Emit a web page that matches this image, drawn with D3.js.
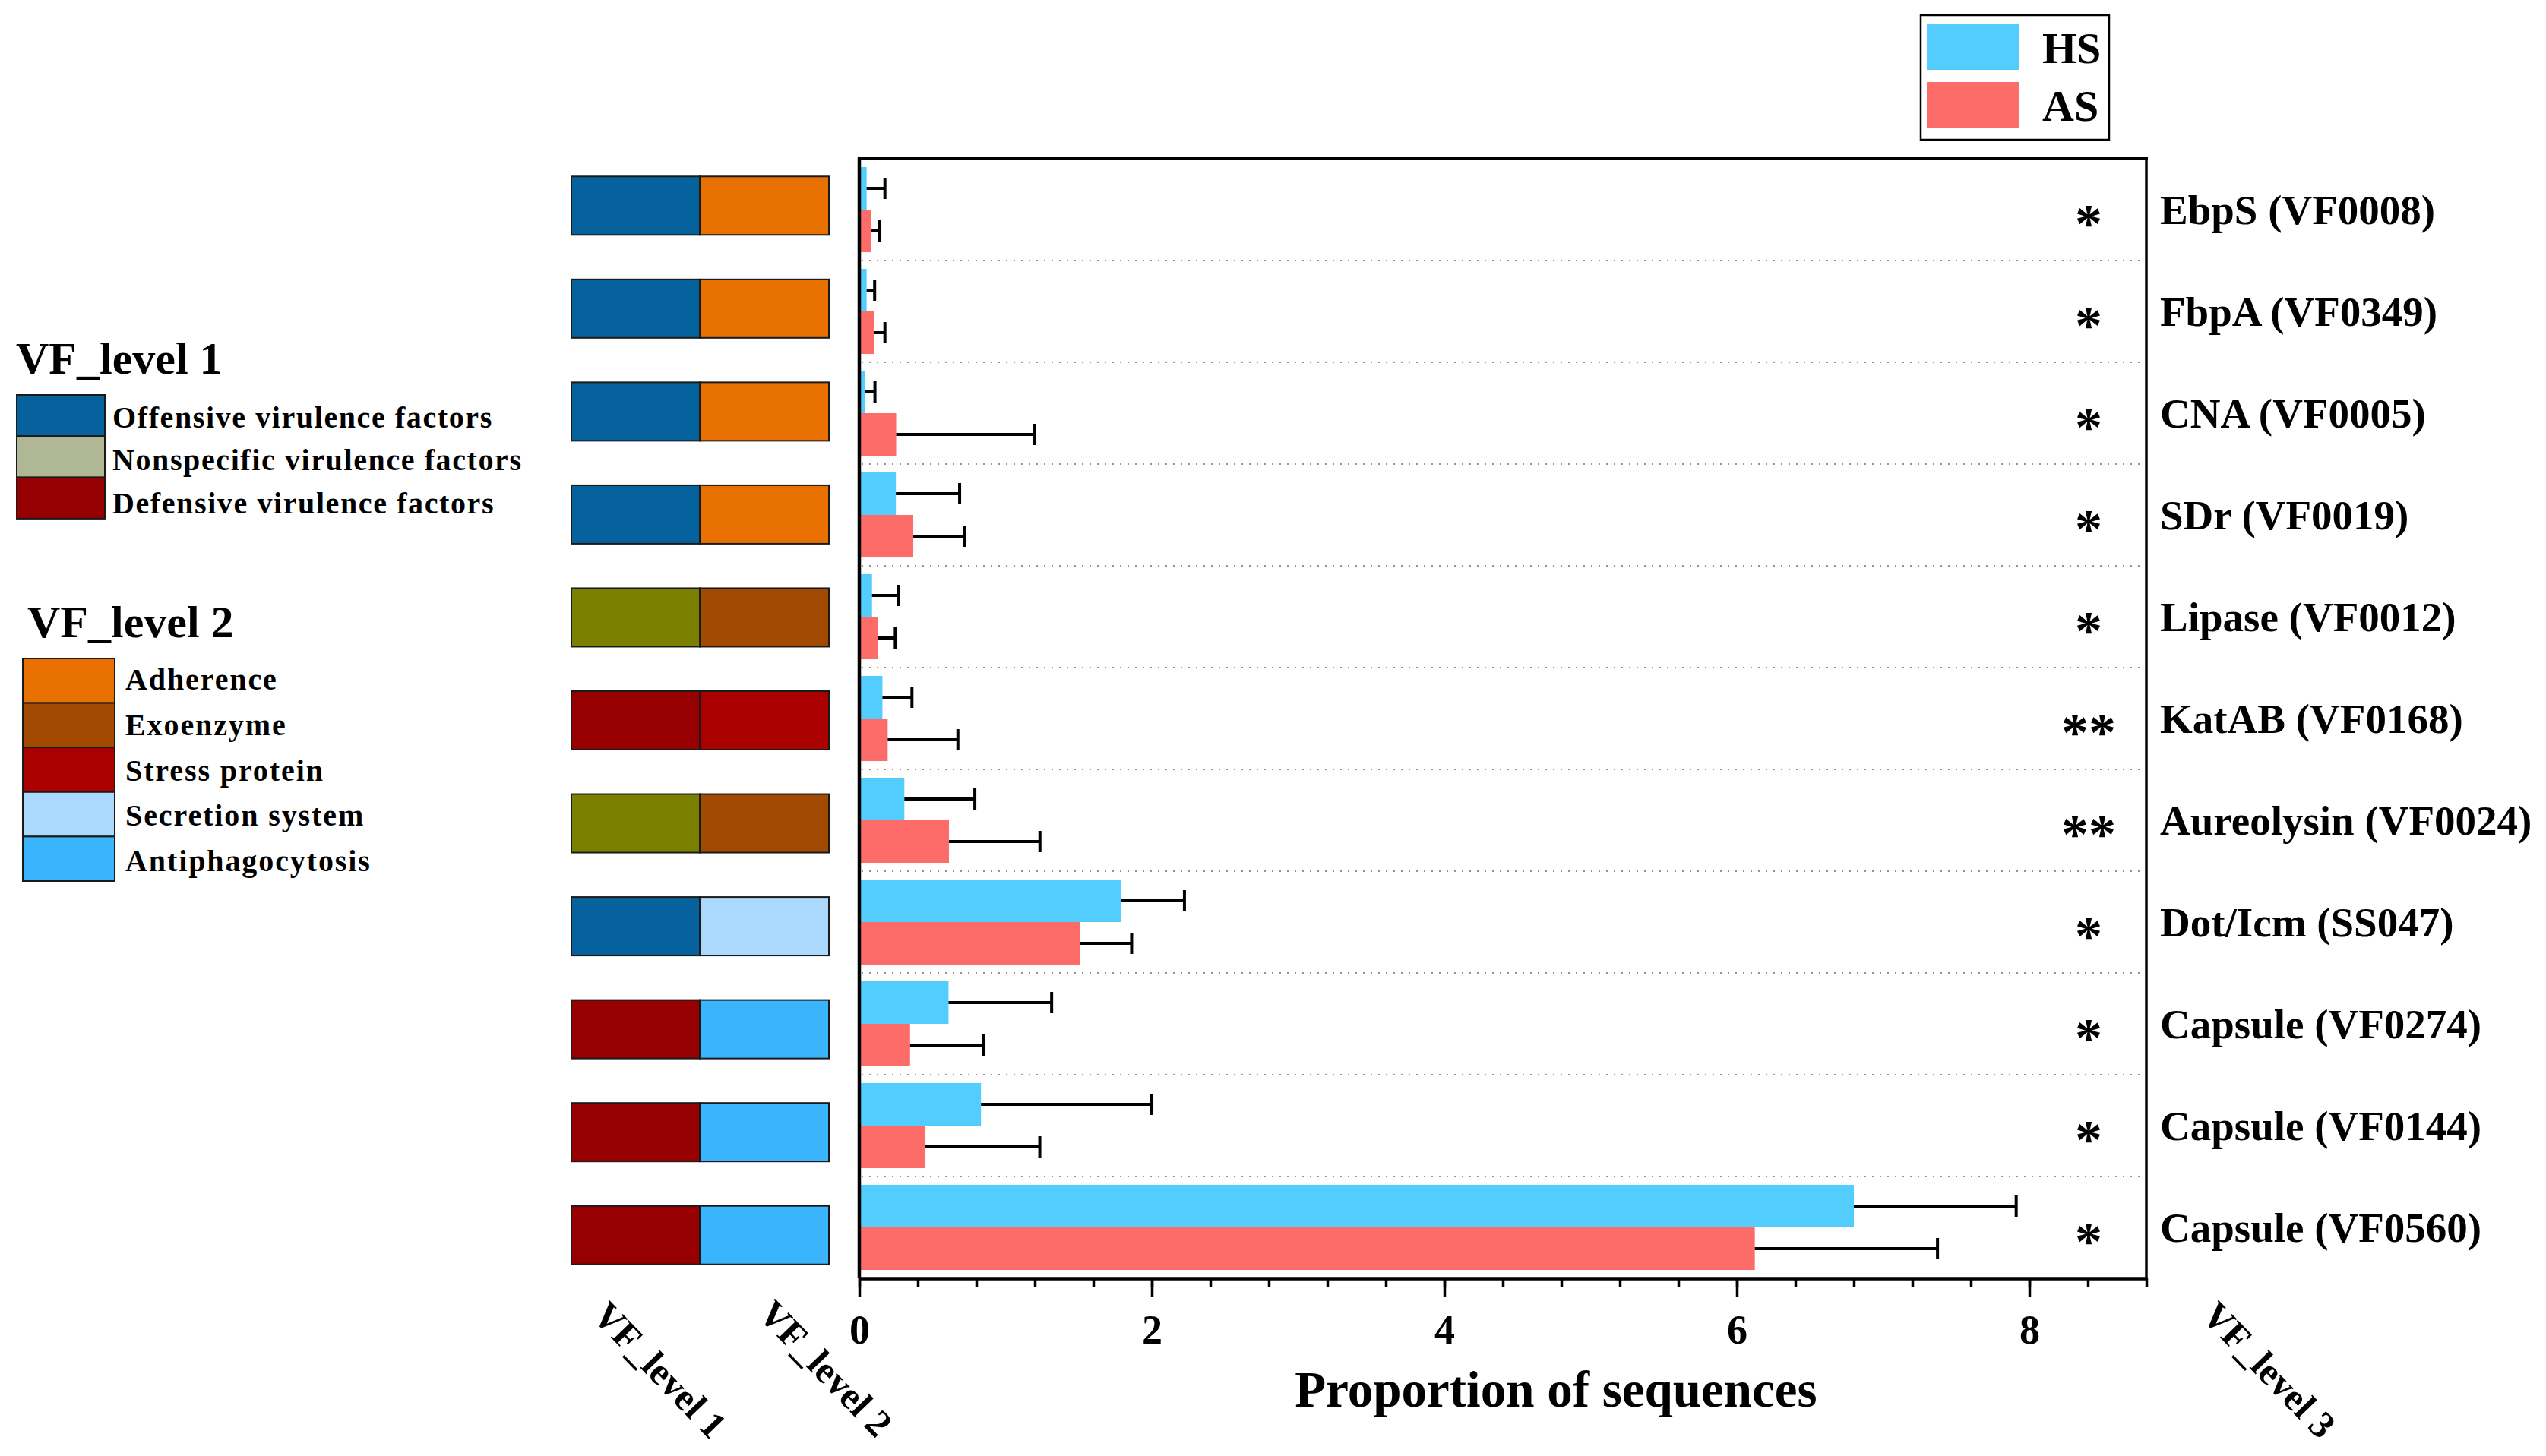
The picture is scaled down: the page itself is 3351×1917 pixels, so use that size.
<!DOCTYPE html>
<html>
<head>
<meta charset="utf-8">
<script src="https://cdn.jsdelivr.net/npm/d3@7"></script>
<style>
  html, body { margin: 0; padding: 0; background: #ffffff; }
  svg { display: block; }
  text { font-family: "Liberation Serif", "Times New Roman", serif; }
</style>
</head>
<body>
<svg id="chart" width="3351" height="1917"></svg>
<script>
// ---------------- data ----------------
const categories = ["EbpS (VF0008)", "FbpA (VF0349)", "CNA (VF0005)", "SDr (VF0019)", "Lipase (VF0012)",
  "KatAB (VF0168)", "Aureolysin (VF0024)", "Dot/Icm (SS047)", "Capsule (VF0274)", "Capsule (VF0144)", "Capsule (VF0560)"];
const groups = ["HS", "AS"];
const hsMean = [0.05, 0.05, 0.04, 0.25, 0.087, 0.158, 0.308, 1.788, 0.61, 0.832, 6.80];
const hsErr  = [0.125, 0.055, 0.067, 0.436, 0.182, 0.202, 0.482, 0.435, 0.705, 1.168, 1.11];
const asMean = [0.078, 0.10, 0.252, 0.369, 0.125, 0.194, 0.613, 1.511, 0.347, 0.45, 6.123];
const asErr  = [0.062, 0.075, 0.946, 0.353, 0.121, 0.48, 0.622, 0.351, 0.502, 0.784, 1.249];
const significance = ["*", "*", "*", "*", "*", "**", "**", "*", "*", "*", "*"];
const level1 = ["Offensive virulence factors", "Offensive virulence factors", "Offensive virulence factors", "Offensive virulence factors",
  "Nonspecific virulence factors", "Defensive virulence factors", "Nonspecific virulence factors", "Offensive virulence factors",
  "Defensive virulence factors", "Defensive virulence factors", "Defensive virulence factors"];
const level2 = ["Adherence", "Adherence", "Adherence", "Adherence", "Exoenzyme", "Stress protein", "Exoenzyme",
  "Secretion system", "Antiphagocytosis", "Antiphagocytosis", "Antiphagocytosis"];
const level1Names = ["Offensive virulence factors", "Nonspecific virulence factors", "Defensive virulence factors"];
const level1LegendColors = ["#05629d", "#b0b795", "#960000"];
const level1BlockColors = ["#05629d", "#7b8000", "#960000"];
const level2Names = ["Adherence", "Exoenzyme", "Stress protein", "Secretion system", "Antiphagocytosis"];
const level2Colors = ["#e87000", "#a34a02", "#aa0000", "#aad9fd", "#3ab5fd"];
const groupColors = ["#53cdfe", "#fe6c6a"];
const majorTicks = [0, 2, 4, 6, 8];
const xLabel = "Proportion of sequences";
const levelTitles = ["VF_level 1", "VF_level 2", "VF_level 3"];

// ---------------- layout ----------------
const svg = d3.select("#chart");
const serif = '"Liberation Serif", "Times New Roman", serif';
const plot = { left: 1131, right: 2825, top: 209, bottom: 1683 };

const x = d3.scaleLinear().domain([0, 8.8]).range([plot.left, plot.right]);
const y = d3.scaleBand().domain(categories).range([plot.top, plot.bottom]).padding(0);
const yBlock = d3.scaleBand().domain(categories).range([203, 1694]).padding(0);
const yg = d3.scaleBand().domain(groups).range([0, y.bandwidth()]).paddingInner(0).paddingOuter(0.196);
const c1 = d3.scaleOrdinal().domain(level1Names).range(level1BlockColors);
const c1L = d3.scaleOrdinal().domain(level1Names).range(level1LegendColors);
const c2 = d3.scaleOrdinal().domain(level2Names).range(level2Colors);
const cg = d3.scaleOrdinal().domain(groups).range(groupColors);

const rows = categories.map((c, i) => ({
  cat: c, sig: significance[i], l1: level1[i], l2: level2[i],
  vals: [{ g: "HS", v: hsMean[i], e: hsErr[i] }, { g: "AS", v: asMean[i], e: asErr[i] }]
}));

// separators (dotted)
svg.append("g").selectAll("line").data(categories.slice(1)).join("line")
  .attr("x1", plot.left + 3).attr("x2", plot.right - 2)
  .attr("y1", d => y(d)).attr("y2", d => y(d))
  .attr("stroke", "#9a9090").attr("stroke-width", 2).attr("stroke-dasharray", "2,8");

// bars
const rowG = svg.append("g").selectAll("g").data(rows).join("g")
  .attr("transform", d => `translate(0,${y(d.cat)})`);
rowG.selectAll("rect").data(d => d.vals).join("rect")
  .attr("x", x(0)).attr("y", d => yg(d.g))
  .attr("width", d => x(d.v) - x(0)).attr("height", yg.bandwidth())
  .attr("fill", d => cg(d.g));
// error bars
rowG.selectAll("line.err").data(d => d.vals).join("line").attr("class", "err")
  .attr("x1", d => x(d.v)).attr("x2", d => x(d.v + d.e))
  .attr("y1", d => yg(d.g) + yg.bandwidth() / 2).attr("y2", d => yg(d.g) + yg.bandwidth() / 2)
  .attr("stroke", "#000").attr("stroke-width", 4);
rowG.selectAll("line.cap").data(d => d.vals).join("line").attr("class", "cap")
  .attr("x1", d => x(d.v + d.e)).attr("x2", d => x(d.v + d.e))
  .attr("y1", d => yg(d.g) + yg.bandwidth() / 2 - 14).attr("y2", d => yg(d.g) + yg.bandwidth() / 2 + 14)
  .attr("stroke", "#000").attr("stroke-width", 4);

// significance stars
rowG.append("text")
  .attr("x", 2749).attr("y", y.bandwidth() / 2 + 42)
  .attr("text-anchor", "middle").attr("font-size", 72).attr("font-weight", "bold")
  .attr("font-family", serif).text(d => d.sig);

// category labels
rowG.append("text")
  .attr("x", 2843).attr("y", y.bandwidth() / 2).attr("dy", "0.34em")
  .attr("font-size", 55).attr("font-weight", "bold").attr("font-family", serif)
  .text(d => d.cat);

// level blocks on the left
const blockH = 77;
const blocks = svg.append("g").selectAll("g").data(rows).join("g")
  .attr("transform", d => `translate(0,${yBlock(d.cat) + yBlock.bandwidth() / 2 - blockH / 2})`);
blocks.append("rect").attr("x", 752).attr("width", 169).attr("y", 0).attr("height", blockH)
  .attr("fill", d => c1(d.l1)).attr("stroke", "#1a1a1a").attr("stroke-width", 2);
blocks.append("rect").attr("x", 921).attr("width", 170).attr("y", 0).attr("height", blockH)
  .attr("fill", d => c2(d.l2)).attr("stroke", "#1a1a1a").attr("stroke-width", 2);

// frame
svg.append("line").attr("x1", plot.left - 2).attr("x2", plot.right + 2).attr("y1", plot.top).attr("y2", plot.top)
  .attr("stroke", "#000").attr("stroke-width", 4);
svg.append("line").attr("x1", plot.right).attr("x2", plot.right).attr("y1", plot.top).attr("y2", plot.bottom)
  .attr("stroke", "#000").attr("stroke-width", 3.5);
svg.append("line").attr("x1", plot.left).attr("x2", plot.left).attr("y1", plot.top - 2).attr("y2", plot.bottom)
  .attr("stroke", "#000").attr("stroke-width", 4.5);

// x axis (minor ticks)
const minorAxis = d3.axisBottom(x).tickValues(d3.range(0, 8.81, 0.4)).tickSize(12).tickSizeOuter(0).tickFormat("");
const gMin = svg.append("g").attr("transform", `translate(0,${plot.bottom})`).call(minorAxis);
gMin.select(".domain").attr("stroke-width", 4.5).attr("stroke", "#000");
gMin.selectAll(".tick line").attr("stroke-width", 3.5).attr("stroke", "#000");
// x axis (major ticks)
const majorAxis = d3.axisBottom(x).tickValues(majorTicks).tickSize(25).tickSizeOuter(0).tickFormat(d3.format("d"));
const gMaj = svg.append("g").attr("transform", `translate(0,${plot.bottom})`).call(majorAxis);
gMaj.select(".domain").remove();
gMaj.selectAll(".tick line").attr("stroke-width", 3.5).attr("stroke", "#000");
gMaj.selectAll(".tick text").attr("y", 86).attr("dy", 0)
  .attr("font-size", 54).attr("font-weight", "bold").attr("font-family", serif).attr("fill", "#000");

// x label
svg.append("text").attr("x", 2048).attr("y", 1852).attr("text-anchor", "middle")
  .attr("font-size", 67).attr("font-weight", "bold").attr("font-family", serif).text(xLabel);

// rotated level titles
const rotPos = [[778, 1734], [996, 1732], [2896, 1734]];
svg.append("g").selectAll("text").data(levelTitles).join("text")
  .attr("transform", (d, i) => `translate(${rotPos[i][0]},${rotPos[i][1]}) rotate(46)`)
  .attr("font-size", 50).attr("font-weight", "bold").attr("font-family", serif).text(d => d);

// HS/AS legend
const lg = svg.append("g");
lg.append("rect").attr("x", 2528).attr("y", 20).attr("width", 248).attr("height", 164)
  .attr("fill", "#fff").attr("stroke", "#000").attr("stroke-width", 2.5);
lg.selectAll("rect.sw").data(groups).join("rect").attr("class", "sw")
  .attr("x", 2536).attr("y", (d, i) => 32 + i * 76).attr("width", 121).attr("height", 60)
  .attr("fill", d => cg(d));
lg.selectAll("text").data(groups).join("text")
  .attr("x", 2688).attr("y", (d, i) => 83 + i * 76)
  .attr("font-size", 58).attr("font-weight", "bold").attr("font-family", serif).text(d => d);

// VF_level 1 legend
const l1 = svg.append("g");
l1.append("text").attr("x", 21).attr("y", 492).attr("font-size", 60).attr("font-weight", "bold")
  .attr("font-family", serif).text(levelTitles[0]);
l1.selectAll("rect").data(level1Names).join("rect")
  .attr("x", 22).attr("y", (d, i) => 520 + i * 54.3).attr("width", 116).attr("height", 54.3)
  .attr("fill", d => c1L(d)).attr("stroke", "#1a1a1a").attr("stroke-width", 2);
l1.selectAll("text.it").data(level1Names).join("text").attr("class", "it")
  .attr("x", 148).attr("y", (d, i) => 563 + i * 56.3)
  .attr("font-size", 40).attr("font-weight", "bold").attr("letter-spacing", 1.6)
  .attr("font-family", serif).text(d => d);

// VF_level 2 legend
const l2 = svg.append("g");
l2.append("text").attr("x", 36).attr("y", 839).attr("font-size", 60).attr("font-weight", "bold")
  .attr("font-family", serif).text(levelTitles[1]);
l2.selectAll("rect").data(level2Names).join("rect")
  .attr("x", 30).attr("y", (d, i) => 867 + i * 58.6).attr("width", 121).attr("height", 58.6)
  .attr("fill", d => c2(d)).attr("stroke", "#1a1a1a").attr("stroke-width", 2);
l2.selectAll("text.it").data(level2Names).join("text").attr("class", "it")
  .attr("x", 165).attr("y", (d, i) => 908 + i * 59.8)
  .attr("font-size", 40).attr("font-weight", "bold").attr("letter-spacing", 1.9)
  .attr("font-family", serif).text(d => d);
</script>
</body>
</html>
